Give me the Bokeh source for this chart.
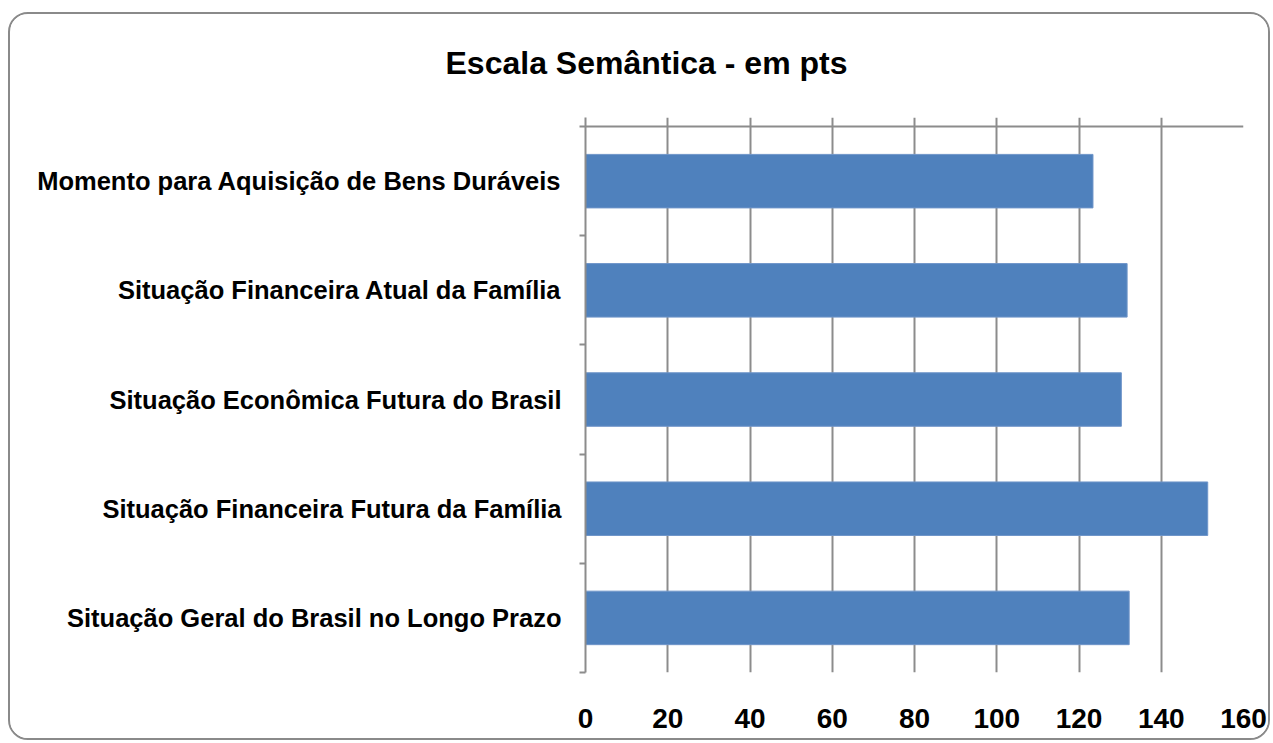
from bokeh.plotting import figure
from bokeh.models import FixedTicker, Span, ColumnDataSource, Range1d, Title
from bokeh.embed import file_html
from bokeh.resources import INLINE

title_text = "Escala Semântica - em pts"
categories = [
    "Momento para Aquisição de Bens Duráveis",
    "Situação Financeira Atual da Família",
    "Situação Econômica Futura do Brasil",
    "Situação Financeira Futura da Família",
    "Situação Geral do Brasil no Longo Prazo",
]
values = [123.4, 131.7, 130.3, 151.3, 132.2]
x_ticks = [0, 20, 40, 60, 80, 100, 120, 140, 160]

FONT = "Liberation Sans"
GRAY = "#8c8c8c"
BLUE = "#4F81BD"

n = len(categories)
ypos = [n - i for i in range(n)]
src = ColumnDataSource(dict(y=ypos, v=values, cat=categories))

p = figure(width=1258, height=724, output_backend="svg", toolbar_location=None,
           x_range=Range1d(0, 160), y_range=Range1d(0.5, n + 0.5 + 0.083),
           min_border_left=575, min_border_right=29, min_border_top=103,
           min_border_bottom=70)
p.outline_line_color = None
p.background_fill_color = "white"
p.border_fill_color = "white"
p.styles = {"margin-left": "8px", "margin-top": "12px",
            "border": "2px solid #8a8a8a", "border-radius": "20px",
            "box-sizing": "content-box", "overflow": "hidden"}

p.title.text = title_text
p.title.align = "left"
p.title.offset = -140
p.title.vertical_align = "top"
p.title.standoff = 10
p.title.text_font = FONT
p.title.text_font_style = "bold"
p.title.text_font_size = "32px"
p.title.text_color = "black"

# blank spacer between the title and the plot area
p.add_layout(Title(text=" ", text_font_size="1px", standoff=27), "above")

p.hbar(y="y", right="v", left=0, height=0.49, source=src,
       fill_color=BLUE, line_color="#6f95c9", line_width=1)

# x axis (bottom): labels only
xa = p.xaxis[0]
xa.ticker = FixedTicker(ticks=x_ticks)
xa.axis_line_color = None
xa.major_tick_line_color = None
xa.minor_tick_line_color = None
xa.major_label_standoff = 30
xa.major_label_text_font = FONT
xa.major_label_text_font_style = "bold"
xa.major_label_text_font_size = "28px"
xa.major_label_text_color = "black"

# y axis (left): category labels, boundary ticks
ya = p.yaxis[0]
ya.ticker = FixedTicker(ticks=ypos, minor_ticks=[k + 0.5 for k in range(n + 1)])
ya.major_label_overrides = {y: c for y, c in zip(ypos, categories)}
ya.axis_line_color = GRAY
ya.axis_line_width = 2
ya.major_tick_line_color = None
ya.minor_tick_line_color = GRAY
ya.minor_tick_line_width = 2
ya.minor_tick_out = 6
ya.minor_tick_in = 0
ya.major_label_standoff = 18
ya.major_label_text_font = FONT
ya.major_label_text_font_style = "bold"
ya.major_label_text_font_size = "25.5px"
ya.major_label_text_color = "black"

p.xgrid.ticker = FixedTicker(ticks=x_ticks)
p.xgrid.grid_line_color = GRAY
p.xgrid.grid_line_width = 2
p.ygrid.visible = False

p.add_layout(Span(location=n + 0.5, dimension="width", line_color=GRAY, line_width=2))

open("out.html", "w").write(file_html(p, INLINE))
